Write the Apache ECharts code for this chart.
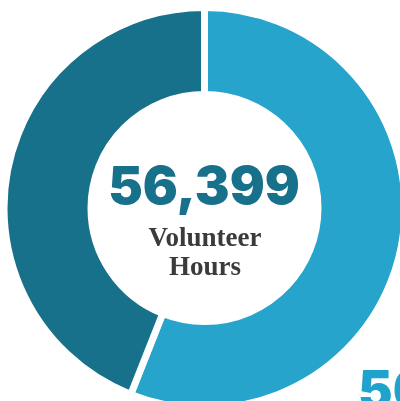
<!DOCTYPE html>
<html><head><meta charset="utf-8">
<script src="https://cdn.jsdelivr.net/npm/echarts@6/dist/echarts.min.js"></script>
<style>html,body{margin:0;padding:0;background:#fff}#c{width:400px;height:401px}</style>
</head><body><div id="c"></div>
<script>
const categories = ['Share A', 'Share B'];
const values = [56, 44];
const colors = ['#27a4cb', '#17718a'];
const centerValue = '56,399';
const centerLabel = ['Volunteer', 'Hours'];
const cornerText = '56%';

const chart = echarts.init(document.getElementById('c'), null, {renderer: 'canvas'});
function txt(t, x, y, size, weight, family, fill, align) {
  return {type: 'text', silent: true, style: {text: t, x: x, y: y, align: align || 'center', verticalAlign: 'middle',
    fontSize: size, fontWeight: weight, fontFamily: family, fill: fill}};
}
chart.setOption({
  animation: false,
  series: [{
    type: 'pie',
    center: [204.5, 208],
    radius: [113.5, 200.5],
    startAngle: 90,
    clockwise: true,
    silent: true,
    label: {show: false},
    labelLine: {show: false},
    itemStyle: {borderColor: '#ffffff', borderWidth: 7},
    data: categories.map((n, i) => ({name: n, value: values[i], itemStyle: {color: colors[i]}}))
  }],
  graphic: [
    txt(centerValue, 204, 188, 52, 900, 'Inter', '#17718a'),
    txt(centerLabel[0], 205, 239, 27, 'bold', '"Liberation Serif"', '#3b3b3b'),
    txt(centerLabel[1], 205, 268, 27, 'bold', '"Liberation Serif"', '#3b3b3b'),
    txt(cornerText, 358, 392, 52, 900, 'Inter', '#1fa3cc', 'left')
  ]
});
</script></body></html>
